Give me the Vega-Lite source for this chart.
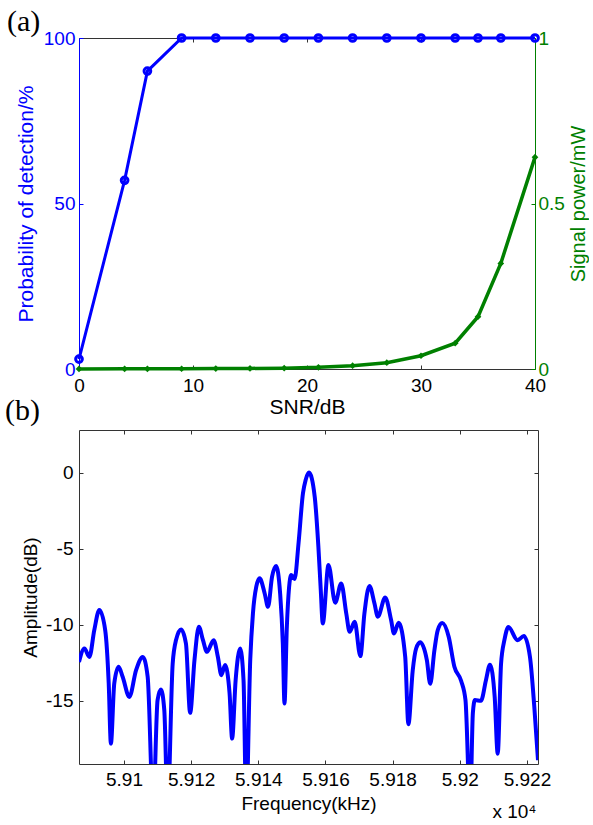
{
  "$schema": "https://vega.github.io/schema/vega-lite/v6.json",
  "padding": {"left": 5, "top": 6, "right": 0, "bottom": 0},
  "background": "white",
  "config": {
    "view": {"stroke": null},
    "axis": {
      "grid": false,
      "labelFont": "Liberation Sans",
      "titleFont": "Liberation Sans",
      "labelFontSize": 19,
      "titleFontSize": 21,
      "titleFontWeight": "normal",
      "labelColor": "#000",
      "titleColor": "#000",
      "domainColor": "#333",
      "tickColor": "#333",
      "tickSize": -4,
      "labelFlush": false,
      "labelOverlap": false
    }
  },
  "datasets": {
    "snr": [
      {"snr": 0, "pd": 3, "power": 0.0003},
      {"snr": 4, "pd": 57, "power": 0.0005},
      {"snr": 6, "pd": 90, "power": 0.0006},
      {"snr": 9, "pd": 100, "power": 0.0008},
      {"snr": 12, "pd": 100, "power": 0.0012},
      {"snr": 15, "pd": 100, "power": 0.0018},
      {"snr": 18, "pd": 100, "power": 0.0025},
      {"snr": 21, "pd": 100, "power": 0.005},
      {"snr": 24, "pd": 100, "power": 0.010},
      {"snr": 27, "pd": 100, "power": 0.019},
      {"snr": 30, "pd": 100, "power": 0.040},
      {"snr": 33, "pd": 100, "power": 0.078},
      {"snr": 35, "pd": 100, "power": 0.158},
      {"snr": 37, "pd": 100, "power": 0.319},
      {"snr": 40, "pd": 100, "power": 0.64}
    ],
    "spec": [
      {"f": 59086.6, "db": -12.45},
      {"f": 59088.2, "db": -11.56},
      {"f": 59089.7, "db": -12.11},
      {"f": 59091.15, "db": -10.35},
      {"f": 59092.65, "db": -9.03},
      {"f": 59094.4, "db": -10.35},
      {"f": 59095.45, "db": -13.86},
      {"f": 59096.1, "db": -17.81},
      {"f": 59097.1, "db": -13.86},
      {"f": 59098.4, "db": -12.76},
      {"f": 59099.6, "db": -13.42},
      {"f": 59101.6, "db": -14.74},
      {"f": 59103.6, "db": -12.98},
      {"f": 59105.6, "db": -12.11},
      {"f": 59107.05, "db": -13.42},
      {"f": 59108.7, "db": -22},
      {"f": 59110.0, "db": -14.95},
      {"f": 59111.0, "db": -14.26},
      {"f": 59112.0, "db": -15.6},
      {"f": 59113.0, "db": -22},
      {"f": 59114.5, "db": -12.55},
      {"f": 59115.5, "db": -11.0},
      {"f": 59117.0, "db": -10.31},
      {"f": 59118.45, "db": -11.23},
      {"f": 59119.7, "db": -15.79},
      {"f": 59121.0, "db": -12.3},
      {"f": 59122.3, "db": -10.13},
      {"f": 59123.5, "db": -11.0},
      {"f": 59124.7, "db": -11.78},
      {"f": 59126.7, "db": -11.01},
      {"f": 59127.95, "db": -12.1},
      {"f": 59129.0, "db": -13.31},
      {"f": 59130.1, "db": -12.65},
      {"f": 59131.45, "db": -14.52},
      {"f": 59132.2, "db": -17.48},
      {"f": 59133.25, "db": -13.64},
      {"f": 59134.6, "db": -11.56},
      {"f": 59135.6, "db": -13.64},
      {"f": 59136.4, "db": -22},
      {"f": 59137.6, "db": -12.3},
      {"f": 59138.4, "db": -9.26},
      {"f": 59139.4, "db": -7.5},
      {"f": 59140.4, "db": -6.95},
      {"f": 59141.9, "db": -7.94},
      {"f": 59142.9, "db": -8.82},
      {"f": 59144.1, "db": -6.84},
      {"f": 59145.3, "db": -6.14},
      {"f": 59146.5, "db": -7.94},
      {"f": 59147.3, "db": -11.23},
      {"f": 59147.8, "db": -15.18},
      {"f": 59148.5, "db": -10.13},
      {"f": 59149.8, "db": -6.73},
      {"f": 59150.8, "db": -7.0},
      {"f": 59152.0, "db": -4.6},
      {"f": 59153.3, "db": -1.36},
      {"f": 59154.1, "db": -0.48},
      {"f": 59155.1, "db": 0.0},
      {"f": 59156.8, "db": -1.58},
      {"f": 59157.9, "db": -4.9},
      {"f": 59158.6, "db": -7.7},
      {"f": 59159.2, "db": -9.91},
      {"f": 59160.9, "db": -6.07},
      {"f": 59162.9, "db": -8.55},
      {"f": 59164.7, "db": -7.28},
      {"f": 59166.2, "db": -9.26},
      {"f": 59167.2, "db": -10.46},
      {"f": 59168.7, "db": -9.80},
      {"f": 59170.4, "db": -12.06},
      {"f": 59171.6, "db": -9.26},
      {"f": 59173.1, "db": -7.45},
      {"f": 59174.6, "db": -8.6},
      {"f": 59175.6, "db": -9.47},
      {"f": 59177.8, "db": -8.20},
      {"f": 59179.55, "db": -9.69},
      {"f": 59180.4, "db": -10.57},
      {"f": 59181.8, "db": -9.87},
      {"f": 59183.75, "db": -12.1},
      {"f": 59184.7, "db": -16.53},
      {"f": 59186.0, "db": -12.98},
      {"f": 59187.0, "db": -11.56},
      {"f": 59188.2, "db": -11.15},
      {"f": 59190.2, "db": -12.32},
      {"f": 59191.2, "db": -13.88},
      {"f": 59192.45, "db": -11.67},
      {"f": 59193.45, "db": -10.35},
      {"f": 59194.8, "db": -9.89},
      {"f": 59196.7, "db": -10.79},
      {"f": 59198.4, "db": -12.76},
      {"f": 59200.4, "db": -13.68},
      {"f": 59201.7, "db": -14.95},
      {"f": 59203.1, "db": -22},
      {"f": 59203.9, "db": -15.8},
      {"f": 59204.5, "db": -14.95},
      {"f": 59206.3, "db": -15.0},
      {"f": 59207.8, "db": -13.64},
      {"f": 59209.0, "db": -12.62},
      {"f": 59210.4, "db": -14.74},
      {"f": 59211.3, "db": -18.47},
      {"f": 59212.3, "db": -12.55},
      {"f": 59213.3, "db": -11.0},
      {"f": 59214.5, "db": -10.15},
      {"f": 59217.2, "db": -11.01},
      {"f": 59219.1, "db": -10.74},
      {"f": 59220.9, "db": -12.1},
      {"f": 59222.2, "db": -15.4},
      {"f": 59223.3, "db": -18.9}
    ]
  },
  "vconcat": [
    {
      "width": 456,
      "height": 331,
      "title": {"text": "(a)", "anchor": "start", "frame": "group", "dx": -72, "offset": -8, "font": "Liberation Serif", "fontSize": 30, "fontWeight": "normal", "color": "#000"},
      "data": {"name": "snr"},
      "layer": [
        {
          "encoding": {
            "x": {"field": "snr", "type": "quantitative", "scale": {"domain": [0, 40], "nice": false},
                  "axis": {"orient": "bottom", "values": [0, 10, 20, 30, 40], "title": "SNR/dB", "labelPadding": 11, "titlePadding": 1}},
            "y": {"field": "pd", "type": "quantitative", "scale": {"domain": [0, 100], "nice": false},
                  "axis": {"orient": "left", "values": [0, 50, 100], "title": "Probability of detection/%",
                           "domainColor": "#0000ff", "tickColor": "#0000ff", "labelColor": "#0000ff", "titleColor": "#0000ff",
                           "labelPadding": 8, "titlePadding": 7}}
          },
          "layer": [
            {"mark": {"type": "line", "color": "#0000ff", "strokeWidth": 3}},
            {"mark": {"type": "point", "shape": "circle", "filled": false, "size": 45, "strokeWidth": 3, "color": "#0000ff", "opacity": 1}}
          ]
        },
        {
          "encoding": {
            "x": {"field": "snr", "type": "quantitative", "scale": {"domain": [0, 40], "nice": false},
                  "axis": {"orient": "top", "values": [0, 10, 20, 30, 40], "labels": false, "title": null}},
            "y": {"field": "power", "type": "quantitative", "scale": {"domain": [0, 1], "nice": false},
                  "axis": {"orient": "right", "values": [0, 0.5, 1], "format": "~g", "title": "Signal power/mW",
                           "titleAngle": 270, "titleBaseline": "top", "titleFontSize": 20,
                           "domainColor": "#008000", "tickColor": "#008000", "labelColor": "#008000", "titleColor": "#008000",
                           "labelPadding": 7, "titlePadding": 4}}
          },
          "layer": [
            {"mark": {"type": "line", "color": "#008000", "strokeWidth": 3.5}},
            {"mark": {"type": "point", "shape": "diamond", "filled": true, "size": 45, "color": "#008000", "opacity": 1}}
          ]
        }
      ],
      "resolve": {"scale": {"y": "independent"}, "axis": {"x": "independent", "y": "independent"}}
    },
    {
      "width": 459,
      "height": 334,
      "title": {"text": "(b)", "anchor": "start", "frame": "group", "dx": -74, "offset": 4, "font": "Liberation Serif", "fontSize": 30, "fontWeight": "normal", "color": "#000"},
      "data": {"name": "spec"},
      "layer": [
        {
          "mark": {"type": "line", "color": "#0000ff", "strokeWidth": 4, "interpolate": "monotone", "clip": true},
          "encoding": {
            "x": {"field": "f", "type": "quantitative", "scale": {"domain": [59086.6, 59223.3], "nice": false, "zero": false},
                  "axis": {"orient": "bottom", "values": [59100, 59120, 59140, 59160, 59180, 59200, 59220],
                           "labelExpr": "format(datum.value/10000, '~g')", "title": "Frequency(kHz)",
                           "titleFontSize": 19, "labelPadding": 10.6, "titlePadding": 5}},
            "y": {"field": "db", "type": "quantitative", "scale": {"domain": [-19.15, 2.8], "nice": false, "zero": false},
                  "axis": {"orient": "left", "values": [-15, -10, -5, 0], "labelExpr": "'' + datum.value",
                           "title": "Amplitude(dB)", "titleFontSize": 19, "labelPadding": 10, "titlePadding": 5}}
          }
        },
        {
          "mark": {"type": "line", "strokeOpacity": 0, "clip": true},
          "encoding": {
            "x": {"field": "f", "type": "quantitative", "scale": {"domain": [59086.6, 59223.3], "nice": false, "zero": false},
                  "axis": {"orient": "top", "values": [59100, 59120, 59140, 59160, 59180, 59200, 59220], "labels": false, "title": null}},
            "y": {"field": "db", "type": "quantitative", "scale": {"domain": [-19.15, 2.8], "nice": false, "zero": false},
                  "axis": {"orient": "right", "values": [-15, -10, -5, 0], "labels": false, "title": null}}
          }
        },
        {
          "mark": {"type": "line", "strokeOpacity": 0, "clip": true},
          "encoding": {
            "x": {"field": "f", "type": "quantitative", "scale": {"domain": [59086.6, 59223.3], "nice": false, "zero": false},
                  "axis": {"orient": "bottom", "values": [59100], "labels": false, "ticks": false, "domain": false,
                           "title": "x 10⁴", "titleFontSize": 19, "titleAnchor": "end", "titleBaseline": "alphabetic", "titleY": 53, "titleX": 457}},
            "y": {"field": "db", "type": "quantitative", "scale": {"domain": [-19.15, 2.8], "nice": false, "zero": false}, "axis": null}
          }
        }
      ],
      "resolve": {"axis": {"x": "independent", "y": "independent"}}
    }
  ],
  "spacing": -22
}
